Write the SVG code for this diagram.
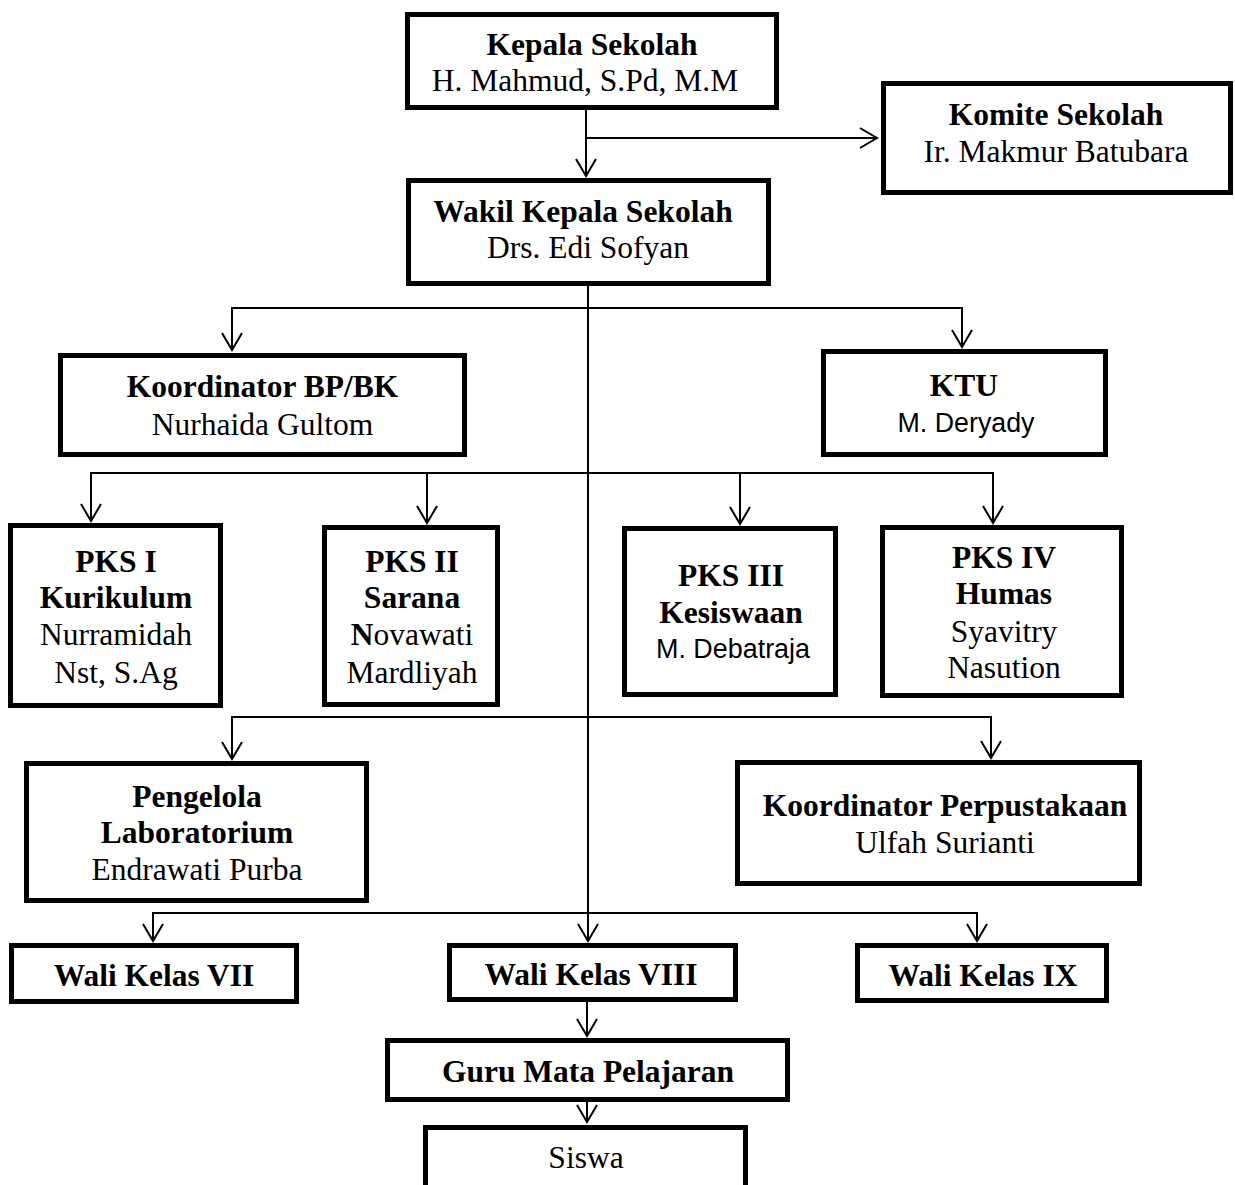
<svg xmlns="http://www.w3.org/2000/svg" width="1235" height="1185" viewBox="0 0 1235 1185">
<style>
.box{fill:#fff;stroke:#000;stroke-width:5}
.t{font-family:"Liberation Serif","Times New Roman",serif;font-size:31.5px;fill:#000;text-anchor:middle}
.b{font-weight:bold}
.s{font-family:"Liberation Sans",Arial,sans-serif;font-size:27px;fill:#000;text-anchor:middle}
.c{fill:none;stroke:#000;stroke-width:2}
</style>
<defs>
<marker id="arr" markerUnits="userSpaceOnUse" viewBox="-20 -12 22 24" refX="0" refY="0" markerWidth="22" markerHeight="24" orient="auto" overflow="visible">
<path d="M-17,-10 L0,0 L-17,10" fill="none" stroke="#000" stroke-width="2"/>
</marker>
</defs>
<rect width="1235" height="1185" fill="#fff"/>
<g id="connectors" class="c" marker-end="url(#arr)">
<path d="M586,110 V176"/>
<path d="M586,138 H877"/>
<path d="M588,286 V941"/>
<path d="M588,308 H232 V350"/>
<path d="M588,308 H962 V347"/>
<path d="M588,473 H91 V521"/>
<path d="M427,473 V523"/>
<path d="M740,473 V524"/>
<path d="M588,473 H993 V523"/>
<path d="M588,717 H232 V759"/>
<path d="M588,717 H991 V758"/>
<path d="M588,913 H153 V941"/>
<path d="M588,913 H977 V941"/>
<path d="M587,1002 V1036"/>
<path d="M587,1102 V1122"/>
</g>
<g id="kepala">
<rect class="box" x="407.5" y="14.5" width="369" height="93"/>
<text class="t b" x="592" y="55">Kepala Sekolah</text>
<text class="t" x="585" y="90.5">H. Mahmud, S.Pd, M.M</text>
</g>
<g id="komite">
<rect class="box" x="883.5" y="83.5" width="347" height="109"/>
<text class="t b" x="1056" y="125">Komite Sekolah</text>
<text class="t" x="1056" y="161.5">Ir. Makmur Batubara</text>
</g>
<g id="wakil">
<rect class="box" x="408.5" y="180.5" width="360" height="103"/>
<text class="t b" x="583" y="222">Wakil Kepala Sekolah</text>
<text class="t" x="588" y="258">Drs. Edi Sofyan</text>
</g>
<g id="bpbk">
<rect class="box" x="60.5" y="355.5" width="404" height="99"/>
<text class="t b" x="262.5" y="396.5">Koordinator BP/BK</text>
<text class="t" x="262.5" y="435">Nurhaida Gultom</text>
</g>
<g id="ktu">
<rect class="box" x="823.5" y="351.5" width="282" height="103"/>
<text class="t b" x="964" y="396">KTU</text>
<text class="s" x="966" y="431.5" textLength="137" lengthAdjust="spacingAndGlyphs">M. Deryady</text>
</g>
<g id="pks1">
<rect class="box" x="10.5" y="525.5" width="210" height="180"/>
<text class="t b" x="116" y="571.5">PKS I</text>
<text class="t b" x="116" y="608">Kurikulum</text>
<text class="t" x="116" y="645">Nurramidah</text>
<text class="t" x="116" y="683">Nst, S.Ag</text>
</g>
<g id="pks2">
<rect class="box" x="324.5" y="527.5" width="173" height="177"/>
<text class="t b" x="412" y="571.5">PKS II</text>
<text class="t b" x="412" y="608">Sarana</text>
<text class="t" x="412" y="645"><tspan class="b">N</tspan>ovawati</text>
<text class="t" x="412" y="683">Mardliyah</text>
</g>
<g id="pks3">
<rect class="box" x="624.5" y="528.5" width="211" height="166"/>
<text class="t b" x="731" y="586">PKS III</text>
<text class="t b" x="731" y="623">Kesiswaan</text>
<text class="s" x="733" y="658" textLength="154" lengthAdjust="spacingAndGlyphs">M. Debatraja</text>
</g>
<g id="pks4">
<rect class="box" x="882.5" y="527.5" width="239" height="168"/>
<text class="t b" x="1004" y="568">PKS IV</text>
<text class="t b" x="1004" y="604">Humas</text>
<text class="t" x="1004" y="641.5">Syavitry</text>
<text class="t" x="1004" y="678">Nasution</text>
</g>
<g id="pengelola">
<rect class="box" x="26.5" y="763.5" width="340" height="137"/>
<text class="t b" x="197" y="806.5">Pengelola</text>
<text class="t b" x="197" y="843">Laboratorium</text>
<text class="t" x="197" y="880">Endrawati Purba</text>
</g>
<g id="perpustakaan">
<rect class="box" x="737.5" y="762.5" width="402" height="121"/>
<text class="t b" x="945" y="816">Koordinator Perpustakaan</text>
<text class="t" x="945" y="853">Ulfah Surianti</text>
</g>
<g id="wali7">
<rect class="box" x="11.5" y="945.5" width="285" height="56"/>
<text class="t b" x="154" y="986">Wali Kelas VII</text>
</g>
<g id="wali8">
<rect class="box" x="449.5" y="945.5" width="286" height="54"/>
<text class="t b" x="591" y="985">Wali Kelas VIII</text>
</g>
<g id="wali9">
<rect class="box" x="857.5" y="945.5" width="249" height="55"/>
<text class="t b" x="983" y="986">Wali Kelas IX</text>
</g>
<g id="guru">
<rect class="box" x="387.5" y="1040.5" width="400" height="59"/>
<text class="t b" x="588" y="1081.5">Guru Mata Pelajaran</text>
</g>
<g id="siswa">
<rect class="box" x="425.5" y="1127.5" width="320" height="70"/>
<text class="t" x="586" y="1168">Siswa</text>
</g>
</svg>
